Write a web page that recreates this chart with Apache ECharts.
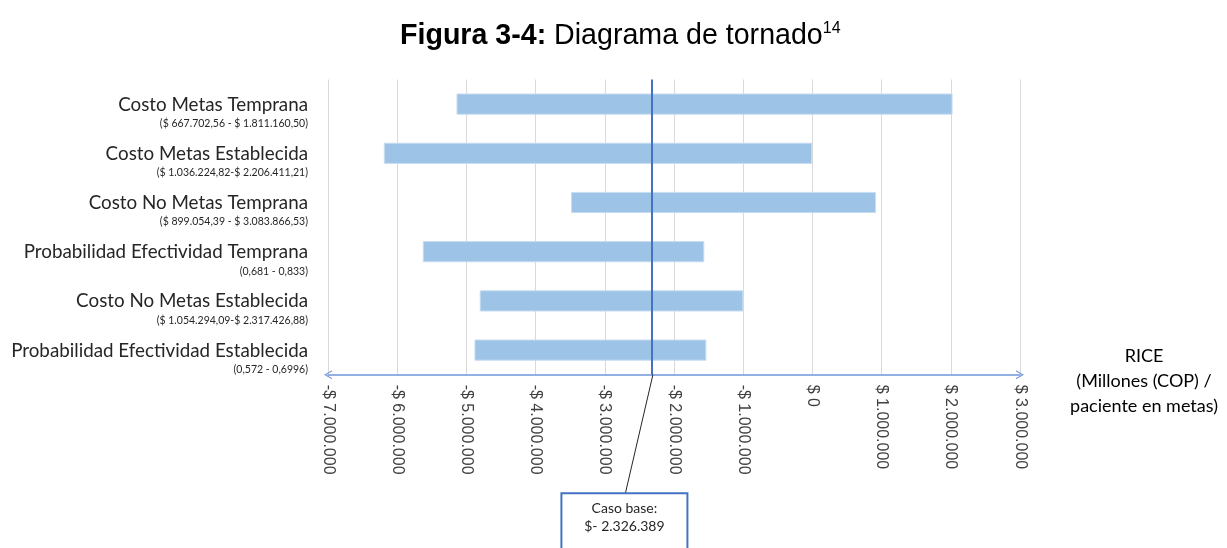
<!DOCTYPE html>
<html>
<head>
<meta charset="utf-8">
<script src="https://cdn.jsdelivr.net/npm/echarts@6/dist/echarts.min.js"></script>
<style>
  html, body { margin: 0; padding: 0; background: #ffffff; }
  #chart { width: 1227px; height: 548px; }
</style>
</head>
<body>
<div id="chart"></div>
<script>
// Tornado diagram: RICE range for each parameter, around the base case
const categories = [
  'Costo Metas Temprana',
  'Costo Metas Establecida',
  'Costo No Metas Temprana',
  'Probabilidad Efectividad Temprana',
  'Costo No Metas Establecida',
  'Probabilidad Efectividad Establecida'
];
const rangeLabels = [
  '($ 667.702,56 - $ 1.811.160,50)',
  '($ 1.036.224,82-$ 2.206.411,21)',
  '($ 899.054,39 - $ 3.083.866,53)',
  '(0,681 - 0,833)',
  '($ 1.054.294,09-$ 2.317.426,88)',
  '(0,572 - 0,6996)'
];
const lowValues = [-5136000, -6186000, -3480000, -5623000, -4800000, -4876000];
const highValues = [2018000, -13000, 911000, -1569000, -1005000, -1540000];
const baseCase = -2326389;
const axisMin = -7000000;
const axisMax = 3000000;
const axisStep = 1000000;
const axisTitleLines = ['RICE', '(Millones (COP) /', 'paciente en metas)'];

const labelFont = 'Lato, "Open Sans", sans-serif';
const arialFont = '"Liberation Sans", Arial, sans-serif';

function thousands(n) {
  return String(Math.round(Math.abs(n))).replace(/\B(?=(\d{3})+(?!\d))/g, '.');
}
function money(v) {
  if (v === 0) return '$ 0';
  return (v < 0 ? '-$ ' : '$ ') + thousands(v);
}

const chart = echarts.init(document.getElementById('chart'), null, { renderer: 'canvas' });

const barData = categories.map((c, i) => [i, lowValues[i], highValues[i]]);
const chevron = 'path://M5,0 L10,9 L8.6,9 L5,2.4 L1.4,9 L0,9 Z';

chart.setOption({
  animation: false,
  backgroundColor: '#ffffff',
  title: {
    left: 395,
    top: 16,
    text: '{b|Figura 3-4:} Diagrama de tornado{s|14}',
    textStyle: {
      fontFamily: arialFont,
      fontSize: 28.6,
      fontWeight: 'normal',
      color: '#000000',
      rich: {
        b: { fontFamily: arialFont, fontSize: 28.6, fontWeight: 'bold', color: '#000000' },
        s: { fontFamily: arialFont, fontSize: 16, color: '#000000', padding: [0, 0, 14, 0] }
      }
    }
  },
  grid: { left: 328, right: 207, top: 79.5, bottom: 173.3, containLabel: false },
  xAxis: {
    type: 'value',
    min: axisMin,
    max: axisMax,
    interval: axisStep,
    // a short spacer line on top drops the three-line title a little below the axis
    name: '{sp| }\n' + axisTitleLines.map(t => '{a|' + t + '}').join('\n'),
    nameLocation: 'end',
    nameGap: 124,
    nameTextStyle: {
      fontFamily: labelFont,
      fontSize: 18,
      color: '#000000',
      align: 'center',
      verticalAlign: 'middle',
      rich: {
        sp: { fontSize: 6, lineHeight: 12.6 },
        a: { fontFamily: labelFont, fontSize: 18, lineHeight: 25, color: '#000000', align: 'center' }
      }
    },
    axisLine: {
      show: true,
      onZero: false,
      lineStyle: { color: '#7096dc', width: 1.5 },
      symbol: [chevron, chevron],
      symbolSize: [10, 8]
    },
    axisTick: { show: false },
    splitLine: { show: true, lineStyle: { color: '#d9d9d9', width: 1 } },
    axisLabel: {
      rotate: -90,
      margin: 10,
      fontFamily: arialFont,
      fontSize: 16,
      color: '#404040',
      formatter: money
    }
  },
  yAxis: {
    type: 'category',
    data: categories,
    inverse: true,
    axisLine: { show: false },
    axisTick: { show: false },
    splitLine: { show: false },
    axisLabel: {
      margin: 20,
      align: 'right',
      padding: [19, 0, 0, 0],
      formatter: (value, idx) => '{m|' + value + '}\n{s|' + rangeLabels[idx] + '}',
      rich: {
        m: { fontFamily: labelFont, fontSize: 18.8, lineHeight: 20, color: '#262626', align: 'right' },
        s: { fontFamily: labelFont, fontSize: 10.5, lineHeight: 18, color: '#262626', align: 'right' }
      }
    }
  },
  series: [
    {
      type: 'custom',
      name: 'Rango',
      data: barData,
      encode: { x: [1, 2], y: 0 },
      renderItem: (params, api) => {
        const row = api.value(0);
        const p0 = api.coord([api.value(1), row]);
        const p1 = api.coord([api.value(2), row]);
        const h = api.size([0, 1])[1] * 0.41;
        return {
          type: 'rect',
          shape: { x: p0[0], y: p0[1] - h / 2, width: p1[0] - p0[0], height: h },
          style: { fill: '#9dc3e6', stroke: '#c6dcf1', lineWidth: 1 }
        };
      },
      z: 2
    },
    {
      type: 'line',
      name: 'Caso base',
      data: [],
      markLine: {
        silent: true,
        symbol: ['none', 'none'],
        label: { show: false },
        lineStyle: { color: '#4472c4', width: 2, type: 'solid' },
        data: [{ xAxis: baseCase }]
      },
      z: 3
    }
  ]
});

// Callout for the base case, hung from the point where the base-case line meets the axis
function drawCallout() {
  const x = chart.convertToPixel({ xAxisIndex: 0 }, baseCase);
  const grid = chart.getModel().getComponent('grid').coordinateSystem.getRect();
  const axisY = grid.y + grid.height;
  const boxTop = axisY + 118.5;
  chart.setOption({
    graphic: [
      {
        type: 'line',
        shape: { x1: x + 1.5, y1: axisY, x2: x - 26, y2: boxTop },
        style: { stroke: '#262626', lineWidth: 1 },
        z: 10
      },
      {
        type: 'rect',
        shape: { x: x - 90, y: boxTop, width: 126, height: 64 },
        style: { fill: '#ffffff', stroke: '#4472c4', lineWidth: 2 },
        z: 10
      },
      {
        type: 'text',
        x: x - 27,
        y: boxTop + 6,
        style: {
          text: 'Caso base:\n$- ' + thousands(baseCase),
          fontFamily: labelFont,
          fontSize: 14,
          lineHeight: 18,
          fill: '#262626',
          align: 'center',
          verticalAlign: 'top'
        },
        z: 11
      }
    ]
  });
}
drawCallout();
</script>
</body>
</html>
